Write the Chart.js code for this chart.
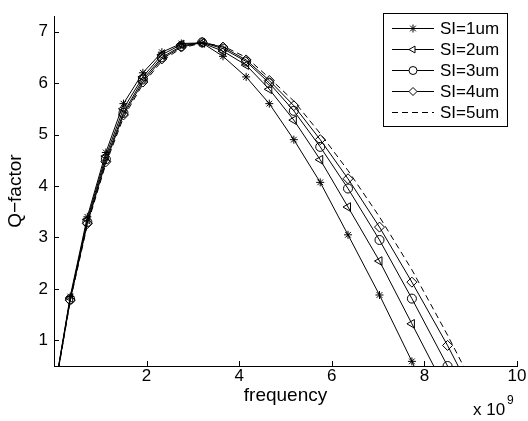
<!DOCTYPE html>
<html>
<head>
<meta charset="utf-8">
<script src="https://cdn.jsdelivr.net/npm/chart.js@4/dist/chart.umd.min.js"></script>
<style>
  html, body { margin: 0; padding: 0; background: #fff; }
  #wrap { width: 528px; height: 421px; }
</style>
</head>
<body>
<div id="wrap"><canvas id="qChart"></canvas></div>
<script>
// frequency in units of 1e9
const freq = [0.1, 0.35, 0.72, 1.12, 1.5, 1.92, 2.33, 2.75, 3.2, 3.65, 4.15, 4.65, 5.18, 5.75, 6.35, 7.03, 7.73, 8.5, 9.3];
const si1 = [0.5, 1.85, 3.4, 4.65, 5.6, 6.2, 6.6, 6.77, 6.78, 6.52, 6.12, 5.6, 4.9, 4.07, 3.05, 1.88, 0.59, -0.95, -2.6];
const si2 = [0.5, 1.82, 3.35, 4.58, 5.5, 6.12, 6.55, 6.75, 6.78, 6.62, 6.35, 5.88, 5.28, 4.51, 3.59, 2.54, 1.32, -0.02, -1.4];
const si3 = [0.48, 1.8, 3.3, 4.52, 5.42, 6.07, 6.5, 6.72, 6.79, 6.67, 6.42, 6.0, 5.46, 4.76, 3.95, 2.95, 1.81, 0.5, -0.9];
const si4 = [0.47, 1.78, 3.27, 4.47, 5.38, 6.02, 6.47, 6.7, 6.79, 6.7, 6.45, 6.05, 5.56, 4.9, 4.14, 3.2, 2.13, 0.9, -0.5];
const si5 = [0.45, 1.76, 3.24, 4.43, 5.33, 5.98, 6.43, 6.68, 6.78, 6.72, 6.5, 6.1, 5.65, 5.02, 4.3, 3.4, 2.37, 1.1, -0.3];

const seriesLabels = ["SI=1um", "SI=2um", "SI=3um", "SI=4um", "SI=5um"];
const xTicks = [2, 4, 6, 8, 10];
const yTicks = [1, 2, 3, 4, 5, 6, 7];

const FONT = "'Liberation Sans', Arial, sans-serif";

function pts(ys) {
  return freq.map((x, i) => ({ x: x, y: ys[i] }));
}

function makeSet(label, ys, style, rotation, radius, dash) {
  return {
    label: label,
    data: pts(ys),
    borderColor: "#000",
    borderWidth: 1,
    borderDash: dash || [],
    backgroundColor: "rgba(0,0,0,0)",
    pointStyle: style,
    pointRotation: rotation,
    pointRadius: (ctx) => (ctx.dataIndex === 0 || !style ? 0 : radius),
    pointBorderColor: "#000",
    pointBorderWidth: 1,
    pointBackgroundColor: "rgba(0,0,0,0)",
    tension: 0,
  };
}

const datasets = [
  makeSet(seriesLabels[0], si1, "star", 0, 4),
  makeSet(seriesLabels[1], si2, "triangle", -90, 5),
  makeSet(seriesLabels[2], si3, "circle", 0, 4.5),
  makeSet(seriesLabels[3], si4, "rectRot", 0, 5),
  makeSet(seriesLabels[4], si5, false, 0, 0, [6, 4]),
];

// inward tick marks, exponent label and a MATLAB-style legend
const decorPlugin = {
  id: "decor",
  afterDraw(chart) {
    const ctx = chart.ctx;
    const xs = chart.scales.x, ys = chart.scales.y;
    const area = chart.chartArea;
    ctx.save();
    ctx.strokeStyle = "#000";
    ctx.lineWidth = 1;
    ctx.beginPath();
    xTicks.forEach((v) => {
      const px = Math.round(xs.getPixelForValue(v)) + 0.5;
      ctx.moveTo(px, area.bottom);
      ctx.lineTo(px, area.bottom - 5);
    });
    yTicks.forEach((v) => {
      const py = Math.round(ys.getPixelForValue(v)) + 0.5;
      ctx.moveTo(area.left, py);
      ctx.lineTo(area.left + 5, py);
    });
    ctx.stroke();

    // x 10^9
    ctx.fillStyle = "#000";
    ctx.textBaseline = "alphabetic";
    ctx.textAlign = "left";
    ctx.font = "17px " + FONT;
    ctx.fillText("x 10", 473, 415);
    ctx.font = "12px " + FONT;
    ctx.fillText("9", 507, 404);

    // legend
    const box = { l: 383.5, t: 13.5, r: 507.5, b: 126.5 };
    ctx.fillStyle = "#fff";
    ctx.fillRect(box.l, box.t, box.r - box.l, box.b - box.t);
    ctx.strokeRect(box.l, box.t, box.r - box.l, box.b - box.t);
    const rowY = [28, 49, 70, 91, 112];
    chart.data.datasets.forEach((ds, i) => {
      const y = rowY[i] + 0.5;
      ctx.save();
      ctx.setLineDash(ds.borderDash);
      ctx.beginPath();
      ctx.moveTo(392, y);
      ctx.lineTo(434, y);
      ctx.stroke();
      ctx.restore();
      if (ds.pointStyle) {
        ctx.fillStyle = "#fff";
        Chart.helpers.drawPoint(ctx, {
          pointStyle: ds.pointStyle,
          rotation: ds.pointRotation,
          radius: 4,
          borderWidth: 1,
        }, 413, y);
      }
      ctx.fillStyle = "#000";
      ctx.font = "17px " + FONT;
      ctx.textBaseline = "middle";
      ctx.fillText(ds.label, 440, y + 1);
    });
    ctx.restore();
  },
};

new Chart(document.getElementById("qChart"), {
  type: "line",
  data: { datasets: datasets },
  options: {
    responsive: true,
    maintainAspectRatio: false,
    animation: false,
    events: [],
    layout: { padding: { top: 5, right: 11, left: 0, bottom: 0 } },
    plugins: {
      legend: { display: false },
      tooltip: { enabled: false },
    },
    scales: {
      x: {
        type: "linear",
        min: 0,
        max: 10,
        afterFit: (s) => { s.height = 55; },
        afterBuildTicks: (s) => { s.ticks = xTicks.map((v) => ({ value: v })); },
        grid: { display: false, drawTicks: false },
        border: { display: true, color: "#000", width: 1 },
        ticks: {
          color: "#000",
          padding: 0,
          maxRotation: 0,
          font: { family: FONT, size: 17 },
        },
        title: {
          display: true,
          text: "frequency",
          color: "#000",
          font: { family: FONT, size: 19 },
          padding: { top: 0, bottom: 14 },
        },
      },
      y: {
        type: "linear",
        min: 0.5,
        max: 7.3,
        afterFit: (s) => { s.width = 54; },
        afterBuildTicks: (s) => { s.ticks = yTicks.map((v) => ({ value: v })); },
        grid: { display: false, drawTicks: false },
        border: { display: true, color: "#000", width: 1 },
        ticks: {
          color: "#000",
          padding: 6,
          font: { family: FONT, size: 17 },
        },
        title: {
          display: true,
          text: "Q\u2212factor",
          color: "#000",
          font: { family: FONT, size: 19 },
          padding: { top: 4, bottom: 0 },
        },
      },
    },
  },
  plugins: [decorPlugin],
});
</script>
</body>
</html>
